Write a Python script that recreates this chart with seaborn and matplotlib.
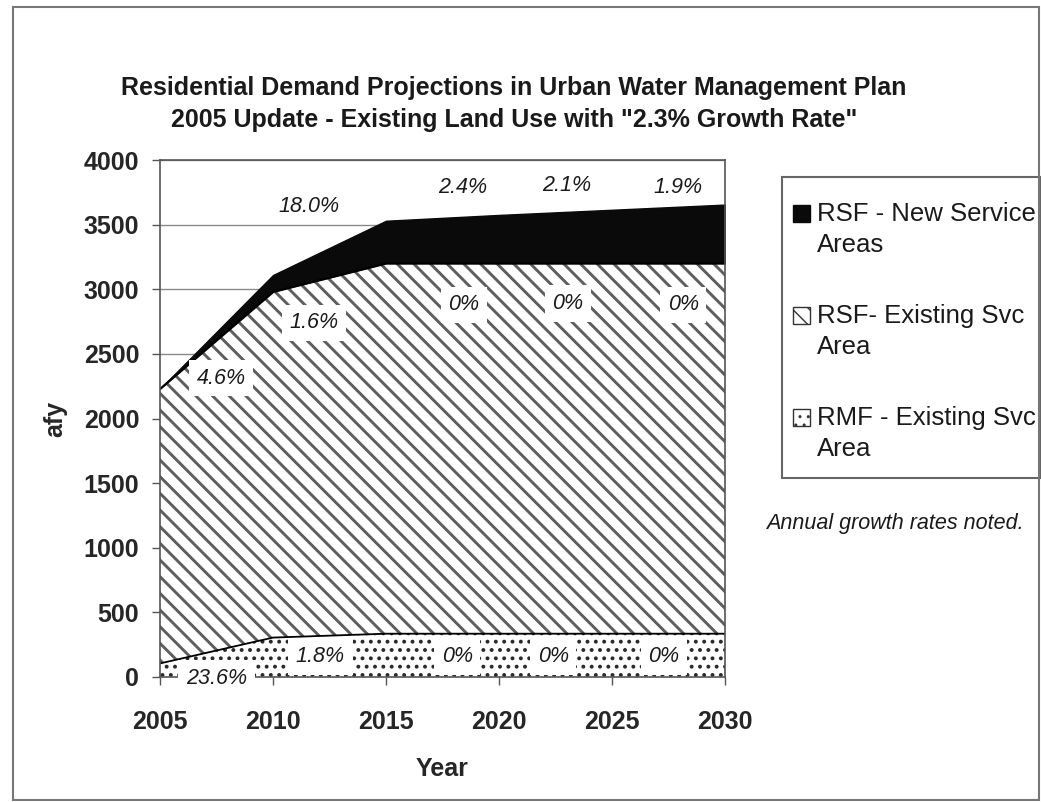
import numpy as np
import pandas as pd
import matplotlib
matplotlib.use("Agg")
import matplotlib.pyplot as plt
import seaborn as sns
from matplotlib.patches import Patch, Rectangle
from matplotlib.legend_handler import HandlerPatch

# ---- data (acre-feet per year) ----
years = [2005, 2010, 2015, 2020, 2025, 2030]
rmf_existing = [105, 305, 335, 335, 335, 335]
rsf_existing = [2125, 2675, 2865, 2865, 2865, 2865]
rsf_new = [0, 130, 330, 375, 415, 455]

series_labels = ["RSF - New Service\nAreas", "RSF- Existing Svc\nArea", "RMF - Existing Svc\nArea"]
y_ticks = [0, 500, 1000, 1500, 2000, 2500, 3000, 3500, 4000]
x_ticks = [2005, 2010, 2015, 2020, 2025, 2030]

# annual growth-rate notes for each band
new_rates = ["18.0%", "2.4%", "2.1%", "1.9%"]
rsf_rates = ["4.6%", "1.6%", "0%", "0%", "0%"]
rmf_rates = ["23.6%", "1.8%", "0%", "0%", "0%"]

title = ("Residential Demand Projections in Urban Water Management Plan\n"
         "2005 Update - Existing Land Use with \"2.3% Growth Rate\"")

# ---- style ----
sns.set_style("white")
plt.rcParams["font.family"] = ["Liberation Sans", "DejaVu Sans"]

W, H = 1041, 802
fig = plt.figure(figsize=(W / 100, H / 100), dpi=100)
ax = fig.add_axes([160 / W, 1 - 677 / H, 565 / W, 517 / H])

cum_rmf = np.array(rmf_existing, dtype=float)
cum_rsf = cum_rmf + np.array(rsf_existing)
cum_total = cum_rsf + np.array(rsf_new)

# stacked bands
with plt.rc_context({"hatch.linewidth": 1.6}):
    ax.fill_between(years, 0, cum_rmf, facecolor="white", edgecolor="#2a2a2a",
                    hatch="..", linewidth=0, zorder=2)
with plt.rc_context({"hatch.linewidth": 2.1}):
    ax.fill_between(years, cum_rmf, cum_rsf, facecolor="white", edgecolor="#5e5e5e",
                    hatch="\\\\", linewidth=0, zorder=2)
ax.fill_between(years, cum_rsf, cum_total, facecolor="#0a0a0a", edgecolor="#0a0a0a",
                linewidth=1, zorder=2)

# band boundaries
edges = pd.DataFrame({
    "Year": years * 2,
    "afy": list(cum_rmf) + list(cum_rsf),
    "edge": ["rmf"] * len(years) + ["rsf"] * len(years),
})
sns.lineplot(data=edges, x="Year", y="afy", units="edge", estimator=None,
             color="black", linewidth=1.3, legend=False, ax=ax, zorder=3)

ax.set_xlim(2005, 2030)
ax.set_ylim(0, 4000)
ax.set_xticks(x_ticks, labels=[str(v) for v in x_ticks], fontsize=18, fontweight="bold")
ax.set_yticks(y_ticks, labels=[str(v) for v in y_ticks], fontsize=18, fontweight="bold")
ax.tick_params(axis="x", direction="out", length=6, width=1, color="#555555", pad=18, bottom=True)
ax.tick_params(axis="y", direction="out", length=6, width=1, color="#555555", pad=9, left=True)
ax.yaxis.grid(True, color="#8a8a8a", linewidth=1)
ax.xaxis.grid(False)
ax.set_axisbelow(True)
for s in ax.spines.values():
    s.set_color("#555555")
    s.set_linewidth(1.2)
    s.set_zorder(4)

ax.set_xlabel("Year", fontsize=18, fontweight="bold", labelpad=16)
ax.set_ylabel("afy", fontsize=18, fontweight="bold", labelpad=12)

# growth-rate notes
note_kw = dict(fontsize=15.5, style="italic", ha="center", va="center", color="#1a1a1a", zorder=6)
box = dict(boxstyle="square,pad=0.35", facecolor="white", edgecolor="none")
new_pos = [(2011.6, 3640), (2018.4, 3790), (2023.0, 3800), (2027.9, 3785)]
for s, (x, y) in zip(new_rates, new_pos):
    ax.text(x, y, s, **note_kw)
rsf_pos = [(2007.7, 2313), (2011.8, 2740), (2018.45, 2880), (2023.05, 2890), (2028.15, 2880)]
for s, (x, y) in zip(rsf_rates, rsf_pos):
    ax.text(x, y, s, bbox=box, **note_kw)
rmf_pos = [(2007.5, -10), (2012.1, 155), (2018.15, 155), (2022.4, 155), (2027.3, 155)]
for s, (x, y) in zip(rmf_rates, rmf_pos):
    ax.text(x, y, s, bbox=box, clip_on=False, **note_kw)


class TopLineHandler(HandlerPatch):
    """Place the legend swatch next to the first line of a two-line label."""
    def create_artists(self, legend, orig_handle, xdescent, ydescent, width, height, fontsize, trans):
        shift = fontsize * 0.65
        p = Rectangle((-xdescent, -ydescent + shift), width, height)
        self.update_prop(p, orig_handle, legend)
        p.set_transform(trans)
        return [p]


handles = [
    Patch(facecolor="#0a0a0a", edgecolor="#0a0a0a"),
    Patch(facecolor="white", edgecolor="#333333", hatch="\\\\"),
    Patch(facecolor="white", edgecolor="#333333", hatch=".."),
]
leg = fig.legend(handles, series_labels, loc="upper left",
                 bbox_to_anchor=(793 / W, 1 - 202 / H), fontsize=18.5,
                 frameon=False, borderpad=0, labelspacing=1.85,
                 handlelength=0.65, handleheight=0.65,
                 handletextpad=0.3, borderaxespad=0,
                 handler_map={Patch: TopLineHandler()})
for t in leg.get_texts():
    t.set_linespacing(1.35)
    t.set_color("#1a1a1a")

# legend frame
fig.patches.append(Rectangle((782 / W, 1 - 478 / H), (1041 - 782) / W, (478 - 177) / H,
                             transform=fig.transFigure, fill=False,
                             edgecolor="#666666", linewidth=1.5))

fig.text(895 / W, 1 - 523 / H, "Annual growth rates noted.", fontsize=15.5,
         style="italic", ha="center", va="center", color="#1a1a1a")

fig.text(514 / W, 1 - 104 / H, title, fontsize=18, fontweight="bold",
         ha="center", va="center", linespacing=1.4, color="#1a1a1a")

# outer chart frame
fig.patches.append(Rectangle((13 / W, 2 / H), (1039 - 13) / W, (795 - 2) / H,
                             transform=fig.transFigure, fill=False,
                             edgecolor="#777777", linewidth=1.5))

fig.savefig("out.png", dpi=100, facecolor="white")
